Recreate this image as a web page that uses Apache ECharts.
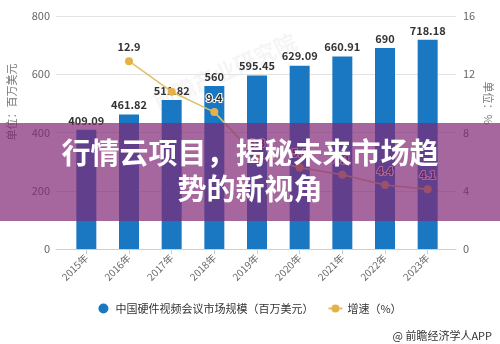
<!DOCTYPE html>
<html>
<head>
<meta charset="utf-8">
<script src="https://cdn.jsdelivr.net/npm/echarts@6/dist/echarts.min.js"></script>
<style>
  html, body { margin: 0; padding: 0; background: #fff; }
  #chart { width: 500px; height: 344px; }
</style>
</head>
<body>
<div id="chart"></div>
<script>
// Years on the category axis
const years = ['2015年', '2016年', '2017年', '2018年', '2019年', '2020年', '2021年', '2022年', '2023年'];
// Market size, million USD
const marketSize = [409.09, 461.82, 511.82, 560, 595.45, 629.09, 660.91, 690, 718.18];
// Year-on-year growth, %
const growth = [null, 12.9, 10.8, 9.4, 6.3, 5.6, 5.1, 4.4, 4.1];
// Axis scales
const sizeTicks = [0, 200, 400, 600, 800];
const growthTicks = [0, 4, 8, 12, 16];

const sizeName = '中国硬件视频会议市场规模（百万美元）';
const growthName = '增速（%）';
const headline = ['行情云项目，揭秘未来市场趋', '势的新视角'];

const FONT = '"Noto Sans CJK SC", "Noto Sans", sans-serif';
const chart = echarts.init(document.getElementById('chart'));

const plotTop = 16, plotBottom = 95;

chart.setOption({
  backgroundColor: '#ffffff',
  textStyle: { fontFamily: FONT },
  animation: false,
  grid: [
    { left: 56, right: 44, top: plotTop, bottom: plotBottom },
    { left: 65, right: 51, top: plotTop, bottom: plotBottom }
  ],
  legend: {
    bottom: 25,
    left: 'center',
    itemGap: 14,
    itemWidth: 14,
    itemHeight: 10,
    textStyle: { fontSize: 11, color: '#333', fontFamily: FONT },
    data: [{ name: sizeName, icon: 'circle' }, { name: growthName }]
  },
  xAxis: [
    {
      type: 'category', gridIndex: 0, data: years,
      axisLine: { lineStyle: { color: '#cfcfcf' } },
      axisTick: { show: false }, axisLabel: { show: false }
    },
    {
      type: 'category', gridIndex: 1, data: years,
      axisLine: { show: false },
      axisTick: { show: true, alignWithLabel: true, length: 5, lineStyle: { color: '#cfcfcf' } },
      axisLabel: { rotate: 45, fontSize: 10, color: '#666', margin: 7, fontFamily: FONT }
    }
  ],
  yAxis: [
    {
      type: 'value', gridIndex: 0, min: sizeTicks[0], max: sizeTicks[sizeTicks.length - 1], interval: sizeTicks[1] - sizeTicks[0],
      axisLine: { show: false }, axisTick: { show: false },
      axisLabel: { fontSize: 11, color: '#666', margin: 6, fontFamily: FONT },
      splitLine: { lineStyle: { color: '#e3e3e3' } }
    },
    {
      type: 'value', gridIndex: 0, position: 'right', min: growthTicks[0], max: growthTicks[growthTicks.length - 1], interval: growthTicks[1] - growthTicks[0],
      axisLine: { show: false }, axisTick: { show: false },
      axisLabel: { fontSize: 11, color: '#666', margin: 7, fontFamily: FONT },
      splitLine: { show: false }
    },
    {
      type: 'value', gridIndex: 1, min: sizeTicks[0], max: sizeTicks[sizeTicks.length - 1],
      show: false, splitLine: { show: false }
    },
    {
      type: 'value', gridIndex: 1, position: 'right', min: growthTicks[0], max: growthTicks[growthTicks.length - 1],
      show: false, splitLine: { show: false }
    }
  ],
  series: [
    {
      name: sizeName, type: 'bar', xAxisIndex: 1, yAxisIndex: 2,
      data: marketSize, barWidth: 20,
      itemStyle: { color: '#1a78c2' },
      label: {
        show: true, position: 'top', distance: 4,
        fontSize: 11, fontWeight: 'bold', color: '#333', fontFamily: FONT
      },
      z: 2
    },
    {
      name: growthName, type: 'line', xAxisIndex: 1, yAxisIndex: 3,
      data: growth.map((v, i) => (i === 2 ? { value: v, label: { show: false } } : v)),
      symbol: 'circle', symbolSize: 8,
      lineStyle: { color: '#dfc06a', width: 1.5 },
      itemStyle: { color: '#e5b24a' },
      label: {
        show: true, position: 'top', distance: 5,
        fontSize: 11, fontWeight: 'bold', color: '#333', fontFamily: FONT,
        textBorderColor: '#fff', textBorderWidth: 2
      },
      z: 3
    }
  ],
  graphic: [
    {
      type: 'text', left: 150, top: 30, rotation: Math.PI / 7.5, z: 0, silent: true,
      style: { text: '前瞻产业研究院', fill: 'rgba(160,160,160,0.10)', font: 'bold 22px ' + FONT }
    },
    {
      type: 'text', x: 12, y: 102, rotation: Math.PI / 2, z: 5,
      style: { text: '单位：百万美元', fill: '#777', font: '11px ' + FONT, align: 'center', verticalAlign: 'middle' }
    },
    {
      type: 'text', x: 488, y: 103, rotation: -Math.PI / 2, z: 5,
      style: { text: '单位：%', fill: '#777', font: '11px ' + FONT, align: 'center', verticalAlign: 'middle' }
    },
    {
      type: 'text', x: 492, y: 336, z: 5,
      style: { text: '@ 前瞻经济学人APP', fill: '#333', font: '11px ' + FONT, align: 'right', verticalAlign: 'middle' }
    },
    {
      type: 'rect', z: 100, silent: true,
      shape: { x: 0, y: 123, width: 500, height: 98 },
      style: { fill: 'rgba(128,38,118,0.70)' }
    },
    {
      type: 'text', x: 250, y: 153, z: 101, silent: true,
      style: { text: headline[0], fill: '#fff', font: 'bold 29px ' + FONT, align: 'center', verticalAlign: 'middle' }
    },
    {
      type: 'text', x: 250, y: 189, z: 101, silent: true,
      style: { text: headline[1], fill: '#fff', font: 'bold 29px ' + FONT, align: 'center', verticalAlign: 'middle' }
    }
  ]
});
</script>
</body>
</html>
